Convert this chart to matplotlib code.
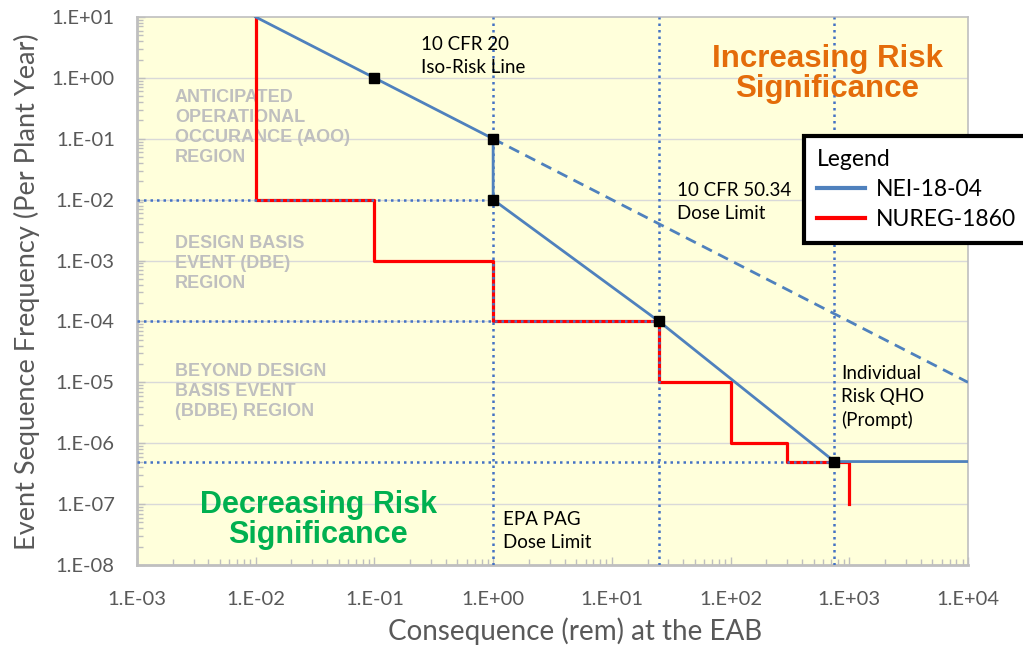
import math
import matplotlib
matplotlib.use("Agg")
import matplotlib.pyplot as plt
from matplotlib.ticker import FixedLocator, FuncFormatter, NullFormatter
from matplotlib.lines import Line2D

# ---- data ----
nei_x = [0.01, 0.1, 1, 1, 25, 750, 1e4]
nei_y = [10, 1, 0.1, 0.01, 1e-4, 5e-7, 5e-7]
iso_x = [1, 1e4]
iso_y = [0.1, 1e-5]
nureg_x = [0.01, 0.01, 0.1, 0.1, 1, 1, 25, 25, 100, 100, 300, 300, 1000, 1000]
nureg_y = [10, 0.01, 0.01, 1e-3, 1e-3, 1e-4, 1e-4, 1e-5, 1e-5, 1e-6, 1e-6, 5e-7, 5e-7, 1e-7]
marker_x = [0.1, 1, 1, 25, 750]
marker_y = [1, 0.1, 0.01, 1e-4, 5e-7]
ref_dose = [1, 25, 750]
ref_freq = [1e-2, 1e-4, 5e-7]
x_exps = list(range(-3, 5))
y_exps = list(range(-8, 2))

W, H = 1023, 646
fig = plt.figure(figsize=(W / 100, H / 100), dpi=100)
L, R, T, B = 137, 968, 17, 565
ax = fig.add_axes([L / W, 1 - B / H, (R - L) / W, (B - T) / H])
ax.set_facecolor("#FFFFDB")
ax.set_xscale("log")
ax.set_yscale("log")
ax.set_xlim(1e-3, 1e4)
ax.set_ylim(1e-8, 1e1)

# gridlines (horizontal only)
for k in y_exps[1:-1]:
    ax.axhline(10.0 ** k, color="#D9D9D9", lw=1.0, zorder=1)

blue = "#4F81BD"
dot_c = "#4472C4"
red = "#FF0000"

# NUREG-1860
ax.plot(nureg_x, nureg_y, color=red, lw=2.3, zorder=3)

# reference dotted lines
for xd in ref_dose:
    ax.plot([xd, xd], [1e-8, 1e1], color=dot_c, lw=1.8, ls=(0, (1, 1.6)), zorder=4)
for yf, xe in zip(ref_freq, ref_dose):
    ax.plot([1e-3, xe], [yf, yf], color=dot_c, lw=1.8, ls=(0, (1, 1.6)), zorder=4)

# NEI-18-04
ax.plot(nei_x, nei_y, color=blue, lw=2.0, zorder=5)
ax.plot(iso_x, iso_y, color=blue, lw=2.0, ls=(0, (4, 2.5)), zorder=5)
ax.plot(marker_x, marker_y, ls="none", marker="s", ms=7, color="black", zorder=6)

# ticks (only inside the visible range)
tick_c = "#595959"
xmaj = [10.0 ** e for e in x_exps]
ymaj = [10.0 ** e for e in y_exps]
xmin = [m * 10.0 ** e for e in x_exps[:-1] for m in range(2, 10)]
ymin = [m * 10.0 ** e for e in y_exps[:-1] for m in range(2, 10)]
ax.xaxis.set_major_locator(FixedLocator(xmaj))
ax.yaxis.set_major_locator(FixedLocator(ymaj))
ax.xaxis.set_minor_locator(FixedLocator(xmin))
ax.yaxis.set_minor_locator(FixedLocator(ymin))
fmt = FuncFormatter(lambda v, p: "1.E{:+03d}".format(int(round(math.log10(v)))))
ax.xaxis.set_major_formatter(fmt)
ax.yaxis.set_major_formatter(fmt)
ax.xaxis.set_minor_formatter(NullFormatter())
ax.yaxis.set_minor_formatter(NullFormatter())
ax.tick_params(which="major", direction="in", length=6, color="#BFBFBF", width=1,
               labelsize=14.5, labelcolor=tick_c)
ax.tick_params(axis="x", which="major", pad=19)
ax.tick_params(axis="y", which="major", pad=16)
ax.tick_params(which="minor", direction="in", length=4, color="#BFBFBF", width=1)
for lab in ax.get_xticklabels() + ax.get_yticklabels():
    lab.set_family("Lato")
for s in ax.spines.values():
    s.set_color("#BFBFBF")
    s.set_linewidth(1.2)
ax.spines["left"].set_linewidth(2)
ax.spines["bottom"].set_linewidth(2)

ax.set_xlabel("Consequence (rem) at the EAB", fontsize=20, color=tick_c, family="Lato")
ax.xaxis.set_label_coords((575 - L) / (R - L), (B - 617) / (B - T))
fig.text(27 / W, 1 - 292 / H, "Event Sequence Frequency (Per Plant Year)",
         rotation=90, ha="center", va="center", fontsize=19.5, color=tick_c,
         family="Lato")

def axf(px, py):
    return ((px - L) / (R - L), (B - py) / (B - T))

gray = "#BFBFBF"
for txt, py in [("ANTICIPATED\nOPERATIONAL\nOCCURANCE (AOO)\nREGION", 89),
                ("DESIGN BASIS\nEVENT (DBE)\nREGION", 235),
                ("BEYOND DESIGN\nBASIS EVENT\n(BDBE) REGION", 363)]:
    ax.text(*axf(175, py), txt, transform=ax.transAxes, ha="left", va="top",
            fontsize=13, fontweight="bold", color=gray, family="Liberation Sans",
            linespacing=1.22, zorder=2)

ax.text(*axf(318, 520), "Decreasing Risk\nSignificance", transform=ax.transAxes,
        ha="center", va="center", fontsize=22, fontweight="bold", color="#00B050",
        family="Liberation Sans", linespacing=1.0, zorder=7)
ax.text(*axf(827, 74), "Increasing Risk\nSignificance", transform=ax.transAxes,
        ha="center", va="center", fontsize=22.5, fontweight="bold", color="#E46C0A",
        family="Liberation Sans", linespacing=1.0, zorder=7)

for txt, px, py in [("10 CFR 20\nIso-Risk Line", 421, 36),
                    ("10 CFR 50.34\nDose Limit", 677, 182),
                    ("EPA PAG\nDose Limit", 503, 511),
                    ("Individual\nRisk QHO\n(Prompt)", 841, 365)]:
    ax.text(*axf(px, py), txt, transform=ax.transAxes, ha="left", va="top",
            fontsize=13.5, color="black", family="Lato", linespacing=1.42, zorder=7)

handles = [Line2D([], [], color=blue, lw=3), Line2D([], [], color=red, lw=3)]
leg = fig.legend(handles, ["NEI-18-04", "NUREG-1860"], title="Legend",
                 loc="upper left", bbox_to_anchor=(804 / W, 1 - 136 / H),
                 fancybox=False, framealpha=1, edgecolor="black",
                 prop={"family": "Lato", "size": 16.5},
                 title_fontproperties={"family": "Lato", "size": 16.5},
                 alignment="left", handlelength=2.1, handletextpad=0.5,
                 labelspacing=0.4, borderpad=0.55, borderaxespad=0)
leg.get_frame().set_linewidth(3)

fig.savefig("out.png", dpi=100)
